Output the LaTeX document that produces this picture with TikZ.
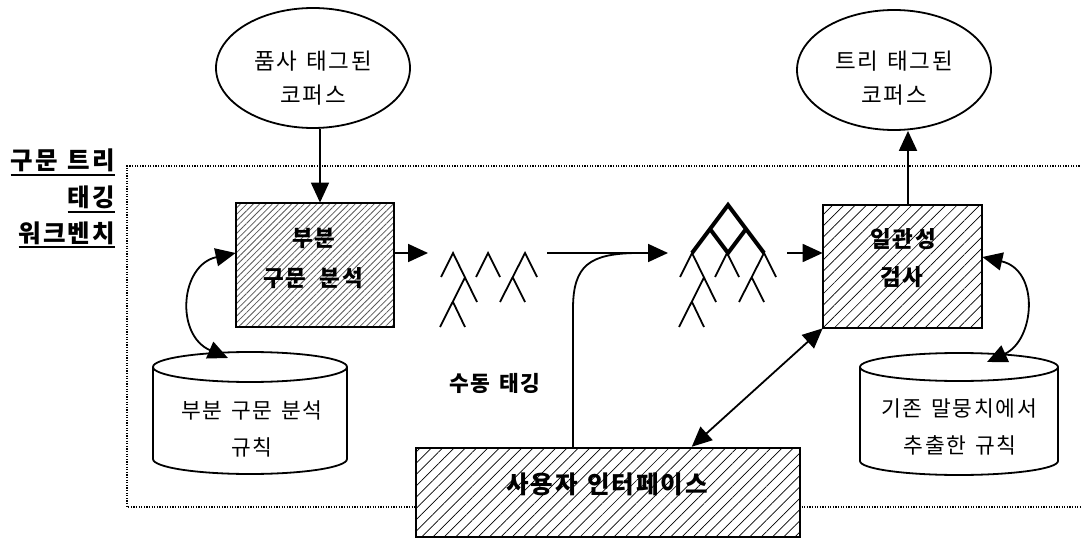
\documentclass[tikz,border=0pt]{standalone}
\usepackage{fontspec}
\setmainfont{Noto Sans CJK KR}[LetterSpace=8]
\usetikzlibrary{arrows.meta,patterns.meta,shapes.geometric}
\newcommand{\kspc}{\hspace{0.4em}}
\begin{document}
\begin{tikzpicture}[x=1pt,y=-1pt,
  tip/.tip={Triangle[length=20pt,width=18pt]},
  arr/.style={line width=1.8pt,-tip},
  dbl/.style={line width=1.8pt,tip-tip},
  ell/.style={ellipse,draw,line width=1.8pt,minimum width=194pt,minimum height=120pt,inner sep=0pt},
  ltxt/.style={font=\fontsize{21.5}{21.5}\selectfont,inner sep=0pt},
  etxt/.style={font=\fontsize{22.5}{22.5}\selectfont,inner sep=0pt},
  btxt/.style={font=\bfseries\fontsize{22.5}{22.5}\selectfont,inner sep=0pt},
  lbl/.style={font=\bfseries\fontsize{24.5}{24.5}\selectfont,inner sep=0pt,anchor=base east},
  uline/.style={line width=1.6pt},
  boxA/.style={draw,line width=2.5pt,inner sep=0pt,preaction={fill=white},pattern={Lines[distance=4.5pt,angle=45,line width=0.8pt]},pattern color=black!65},
  boxB/.style={draw,line width=2.5pt,inner sep=0pt,preaction={fill=white},pattern={Lines[distance=8pt,angle=45,line width=0.7pt]}},
  tline/.style={line width=1.8pt},
  thk/.style={line width=4pt},
  frame/.style={line width=1.3pt,dash pattern=on 1.3pt off 1.3pt},
  cyl/.style={line width=1.8pt},
  pics/trees/.style={code={
    \draw[tline] (-12,24)--(0,0)--(24,49) (12,24.5)--(-13,74) (0,49)--(12,74);
    \draw[tline] (23,24)--(35,0)--(47,24);
    \draw[tline] (47,49)--(72,0)--(84,24) (60,25)--(72,49);
  }}
]
\useasboundingbox (0,0) rectangle (1081,540);
% dotted frame
\draw[frame] (1090,166) -- (127,166) -- (127,507) -- (1090,507);
% left labels
\node[lbl] (l1) at (115,170) {구문\kspc 트리};
\node[lbl] (l2) at (115,207) {태깅};
\node[lbl] (l3) at (115,242) {워크벤치};
\draw[uline] ([yshift=-5pt]l1.base west) -- ([yshift=-5pt]l1.base east);
\draw[uline] ([yshift=-5pt]l2.base west) -- ([yshift=-5pt]l2.base east);
\draw[uline] ([yshift=-5pt]l3.base west) -- ([yshift=-5pt]l3.base east);
% ellipses
\node[ell] (e1) at (313,68) {};
\node[etxt] (e1a) at (313,61) {품사\kspc 태그된};
\node[etxt] (e1b) at (313,95) {코퍼스};
\node[ell] (e2) at (894,70) {};
\node[etxt] (e2a) at (894,61) {트리\kspc 태그된};
\node[etxt] (e2b) at (894,95) {코퍼스};
% boxes
\node[boxA,minimum width=158pt,minimum height=124pt] (b1) at (315,265) {};
\node[btxt] (b1a) at (314,238) {부분};
\node[btxt] (b1b) at (313,278) {구문\hspace{0.6em}분석};
\node[boxB,minimum width=159pt,minimum height=123pt] (b2) at (902.5,266.5) {};
\node[btxt] (b2a) at (903,239) {일관성};
\node[btxt] (b2b) at (902,277) {검사};
\node[boxB,minimum width=384pt,minimum height=89pt] (ui) at (608,492.5) {};
\node[btxt,font=\bfseries\fontsize{24.5}{24.5}\selectfont] (uit) at (607,484) {사용자\kspc 인터페이스};
% cylinders
\draw[cyl] (250,367) ellipse [x radius=97pt,y radius=15pt];
\draw[cyl] (153,367) -- (153,459) arc[start angle=180,end angle=360,x radius=97pt,y radius=15pt] -- (347,367);
\node[ltxt] (c1a) at (252,410) {부분\kspc 구문\kspc 분석};
\node[ltxt] (c1b) at (252,447) {규칙};
\coordinate (c1top) at (228,358);
\draw[cyl] (959,367) ellipse [x radius=99pt,y radius=14pt];
\draw[cyl] (860,367) -- (860,461) arc[start angle=180,end angle=360,x radius=99pt,y radius=14pt] -- (1058,367);
\node[ltxt] (c2a) at (959,408) {기존\kspc 말뭉치에서};
\node[ltxt] (c2b) at (960,445) {추출한\kspc 규칙};
\coordinate (c2top) at (987,362);
% trees
\pic at (453,253) {trees};
\pic at (692,253) {trees};
\draw[thk] (692,253)--(728,205)--(764,253) (710,229)--(728,253)--(746,229);
% label
\node[btxt,font=\bfseries\fontsize{21.5}{21.5}\selectfont] (sd) at (495,383) {수동\kspc 태깅};
% connector coordinates
\coordinate (t1in) at (428,253);
\coordinate (m1) at (547,253);
\coordinate (t2in) at (668,253);
\coordinate (t2out) at (787,253);
\coordinate (jn) at (635,253);
% arrows
\draw[arr] ([xshift=7pt]e1.south) -- ([xshift=5pt]b1.north);
\draw[arr] (b1.east |- t1in) -- (t1in);
\draw[arr] (m1) -- (t2in);
\draw[line width=1.8pt] ([xshift=-35pt]ui.north) -- ++(0,-138) .. controls (573,265) and (590,254) .. (jn);
\draw[arr] (t2out) -- (b2.west |- t2out);
\draw[arr] ([xshift=5.5pt]b2.north) -- ([xshift=14pt]e2.south);
\draw[dbl] ([yshift=12pt]b1.west) .. controls (180,265) and (175,335) .. (c1top);
\draw[dbl] ([yshift=9.5pt]b2.east) .. controls (1040,270) and (1035,340) .. (c2top);
\draw[dbl] (b2.south west) -- ([xshift=277pt]ui.north west);
\end{tikzpicture}
\end{document}
